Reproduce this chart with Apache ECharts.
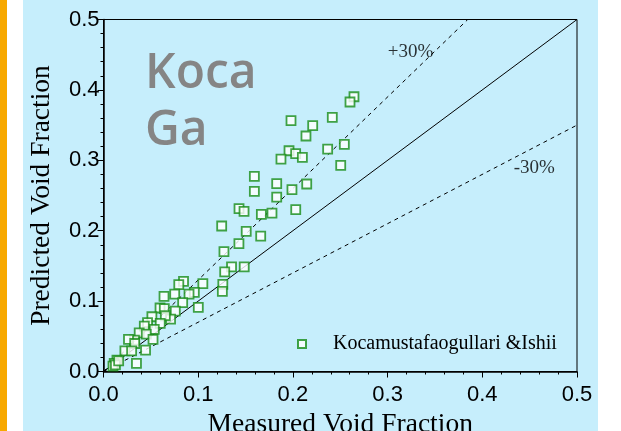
<!DOCTYPE html>
<html>
<head>
<meta charset="utf-8">
<script src="https://cdn.jsdelivr.net/npm/echarts@6/dist/echarts.min.js"></script>
<style>
  html, body { margin: 0; padding: 0; background: #ffffff; }
  #chart { width: 621px; height: 431px; }
</style>
</head>
<body>
<div id="chart"></div>
<script>
// Measured vs predicted void fraction, Kocamustafaogullari & Ishii correlation
const measured = [
  0.2645, 0.2603, 0.2416, 0.1980, 0.2209, 0.2138, 0.2543, 0.2367, 0.1959, 0.2029,
  0.2100, 0.1874, 0.2505, 0.1593, 0.1829, 0.2146, 0.1593, 0.1990, 0.1829, 0.1431,
  0.1484, 0.1667, 0.1779, 0.2030, 0.1248, 0.1507, 0.1660, 0.1430, 0.1272, 0.1352,
  0.1486, 0.1280, 0.1260, 0.1255, 0.1049, 0.0845, 0.0795, 0.0959, 0.0903, 0.0752,
  0.0639, 0.0836, 0.1001, 0.0597, 0.0642, 0.0758, 0.0708, 0.0653, 0.0511, 0.0599,
  0.0465, 0.0431, 0.0536, 0.0377, 0.0452, 0.0523, 0.0327, 0.0264, 0.0330, 0.0226,
  0.0297, 0.0444, 0.0348, 0.0142, 0.0113, 0.0100, 0.0126, 0.0160
];
const predicted = [
  0.3903, 0.3828, 0.3611, 0.3563, 0.3492, 0.3345, 0.3227, 0.3160, 0.3136, 0.3094,
  0.3042, 0.3018, 0.2929, 0.2772, 0.2668, 0.2663, 0.2559, 0.2583, 0.2478, 0.2313,
  0.2275, 0.2233, 0.2251, 0.2300, 0.2067, 0.1990, 0.1922, 0.1816, 0.1702, 0.1487,
  0.1487, 0.1415, 0.1238, 0.1139, 0.1247, 0.1281, 0.1233, 0.1125, 0.1100, 0.1100,
  0.1068, 0.0977, 0.0910, 0.0902, 0.0892, 0.0857, 0.0745, 0.0792, 0.0778, 0.0683,
  0.0693, 0.0645, 0.0598, 0.0550, 0.0531, 0.0455, 0.0446, 0.0455, 0.0398, 0.0294,
  0.0294, 0.0304, 0.0114, 0.0161, 0.0114, 0.0076, 0.0095, 0.0150
];
const tickLabels = ['0.0', '0.1', '0.2', '0.3', '0.4', '0.5'];
const axisMax = 0.5;
// Reference lines: perfect agreement and +/-30 % error bands
const bandRatios = [1.0, 1.3, 0.7];
const bandLabels = ['+30%', '-30%'];
const bandLabelPos = [[0.3242, 0.4538], [0.4549, 0.2890]];
const seriesName = 'Kocamustafaogullari &Ishii';
const panelTitle = 'Koca\nGa';

const points = measured.map((m, i) => [m, predicted[i]]);

function bandLine(r) {
  // end where the line leaves the square plot window
  const xEnd = Math.min(axisMax, axisMax / r);
  return [[0, 0], [xEnd, xEnd * r]];
}

const serif = '"Liberation Serif", "Times New Roman", serif';
const sans = '"Liberation Sans", Arial, sans-serif';

const axisCommon = {
  type: 'value',
  min: 0,
  max: axisMax,
  interval: 0.1,
  nameLocation: 'middle',
  nameTextStyle: { fontFamily: serif, fontSize: 27.5, color: '#000' },
  axisLine: { show: true, onZero: false, lineStyle: { color: '#000', width: 1.5 } },
  axisTick: { show: true, inside: false, length: 6, lineStyle: { color: '#000', width: 1 } },
  minorTick: { show: true, splitNumber: 5, length: 3, lineStyle: { color: '#000', width: 1 } },
  splitLine: { show: false },
  axisLabel: {
    fontFamily: sans, fontSize: 22, color: '#000',
    formatter: v => tickLabels[Math.round(v * 10)]
  }
};

const chart = echarts.init(document.getElementById('chart'), null, { renderer: 'canvas' });

const series = [];
bandRatios.forEach(r => {
  series.push({
    type: 'line',
    data: bandLine(r),
    symbol: 'none',
    silent: true,
    lineStyle: { color: '#000', width: 1, type: r === 1 ? 'solid' : [4, 4] },
    z: 2
  });
});
series.push({
  name: seriesName,
  type: 'scatter',
  data: points,
  symbol: 'rect',
  symbolSize: 9,
  itemStyle: { color: '#ffffff', borderColor: '#168c16', borderWidth: 1.8 },
  z: 3
});
series.push({
  type: 'scatter',
  data: bandLabelPos,
  symbolSize: 0,
  silent: true,
  label: {
    show: true,
    position: 'inside',
    fontFamily: serif,
    fontSize: 19,
    color: '#000',
    formatter: p => bandLabels[p.dataIndex]
  },
  z: 4
});

chart.setOption({
  backgroundColor: '#ffffff',
  animation: false,
  graphic: [
    { type: 'rect', shape: { x: 0, y: 0, width: 7, height: 431 }, style: { fill: '#f7a800' }, z: -10 },
    { type: 'rect', shape: { x: 23, y: 0, width: 575, height: 431 }, style: { fill: '#c6eefc' }, z: -10 }
  ],
  title: {
    text: panelTitle,
    left: 140,
    top: 41,
    textStyle: { fontFamily: '"Open Sans", "Noto Sans", sans-serif', fontSize: 48, lineHeight: 57, fontWeight: 600, color: '#858585' }
  },
  legend: {
    data: [seriesName],
    left: 292,
    top: 329,
    itemWidth: 8,
    itemHeight: 8,
    icon: 'rect',
    textStyle: { fontFamily: serif, fontSize: 20, color: '#000', padding: [0, 0, 0, 22] }
  },
  grid: {
    left: 103.5, top: 19.5, width: 473.5, height: 352,
    outerBoundsMode: 'none',
    containLabel: false,
    show: true, borderColor: '#000', borderWidth: 1, backgroundColor: 'transparent'
  },
  xAxis: Object.assign({}, axisCommon, {
    name: 'Measured Void Fraction', nameGap: 34,
    axisLabel: Object.assign({}, axisCommon.axisLabel, { margin: 12 })
  }),
  yAxis: Object.assign({}, axisCommon, {
    name: 'Predicted Void Fraction', nameGap: 48,
    axisLabel: Object.assign({}, axisCommon.axisLabel, { margin: 4 })
  }),
  series: series
});
</script>
</body>
</html>
